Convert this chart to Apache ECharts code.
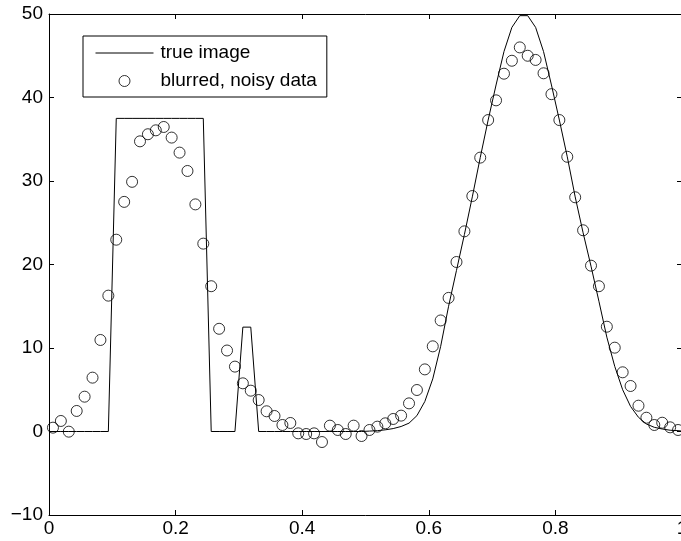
<!DOCTYPE html>
<html>
<head>
<meta charset="utf-8">
<script src="https://cdn.jsdelivr.net/npm/echarts@6/dist/echarts.min.js"></script>
<style>
html,body{margin:0;padding:0;background:#fff;}
#chart{width:681px;height:541px;}
</style>
</head>
<body>
<div id="chart"></div>
<script>
// sample positions of the blurred, noisy data
var dataX = [0.00625,0.01875,0.03125,0.04375,0.05625,0.06875,0.08125,0.09375,0.10625,0.11875,
  0.13125,0.14375,0.15625,0.16875,0.18125,0.19375,0.20625,0.21875,0.23125,0.24375,
  0.25625,0.26875,0.28125,0.29375,0.30625,0.31875,0.33125,0.34375,0.35625,0.36875,
  0.38125,0.39375,0.40625,0.41875,0.43125,0.44375,0.45625,0.46875,0.48125,0.49375,
  0.50625,0.51875,0.53125,0.54375,0.55625,0.56875,0.58125,0.59375,0.60625,0.61875,
  0.63125,0.64375,0.65625,0.66875,0.68125,0.69375,0.70625,0.71875,0.73125,0.74375,
  0.75625,0.76875,0.78125,0.79375,0.80625,0.81875,0.83125,0.84375,0.85625,0.86875,
  0.88125,0.89375,0.90625,0.91875,0.93125,0.94375,0.95625,0.96875,0.98125,0.99375];
var dataY = [0.46,1.26,-0.02,2.46,4.17,6.45,10.96,16.27,
  22.97,27.5,29.9,34.75,35.6,36.07,36.47,35.2,33.4,31.2,27.2,22.5,
  17.4,12.3,9.7,7.77,5.77,4.89,3.77,2.42,1.86,0.78,
  1.02,-0.22,-0.3,-0.22,-1.26,0.7,0.18,-0.3,0.7,-0.54,
  0.18,0.58,0.98,1.5,1.9,3.37,4.97,7.44,10.2,13.3,
  16.0,20.3,23.97,28.2,32.8,37.3,39.66,42.85,44.4,46.0,
  45.0,44.5,42.9,40.4,37.3,32.9,28.05,24.1,19.86,17.4,
  12.55,10.04,7.09,5.45,3.09,1.65,0.78,1.05,0.5,0.18];
// true image
var trueX = [0,0.00625,0.01875,0.03125,0.04375,0.05625,0.06875,0.08125,0.09375,0.10625,0.11875,
  0.13125,0.14375,0.15625,0.16875,0.18125,0.19375,0.20625,0.21875,0.23125,0.24375,
  0.25625,0.26875,0.28125,0.29375,0.30625,0.31875,0.33125,0.34375,0.35625,0.36875,
  0.38125,0.39375,0.40625,0.41875,0.43125,0.44375,0.45625,0.46875,0.48125,0.49375,
  0.50625,0.51875,0.53125,0.54375,0.55625,0.56875,0.58125,0.59375,0.60625,0.61875,
  0.63125,0.64375,0.65625,0.66875,0.68125,0.69375,0.70625,0.71875,0.73125,0.74375,
  0.75625,0.76875,0.78125,0.79375,0.80625,0.81875,0.83125,0.84375,0.85625,0.86875,
  0.88125,0.89375,0.90625,0.91875,0.93125,0.94375,0.95625,0.96875,0.98125,0.99375,1];
var trueY = [0,0,0,0,0,0,0,0,0,
  37.5,37.5,37.5,37.5,37.5,37.5,37.5,37.5,37.5,37.5,37.5,37.5,
  0,0,0,0,
  12.5,12.5,
  0,0,0,0,0,0,0,0,0,0,0,0,0,0,
  0.05,0.1,0.2,0.35,0.6,1.0,1.9,3.6,6.3,10.2,
  15.0,19.3,23.6,28.1,32.8,37.3,41.5,45.5,48.4,49.8,
  49.8,48.4,45.5,41.5,37.3,32.9,28.1,23.8,19.8,15.6,
  11.3,7.8,5.0,3.0,1.7,0.9,0.5,0.3,0.15,0.1,0.05];
var seriesNames = ['true image', 'blurred, noisy data'];
var xTicks = {min: 0, max: 1, interval: 0.2};
var yTicks = {min: -10, max: 50, interval: 10};

var FONT = 'Liberation Sans, Arial, Helvetica, sans-serif';
function pair(xs, ys) { var out = []; for (var i = 0; i < xs.length; i++) out.push([xs[i], ys[i]]); return out; }
function fmt(v) { return String(v).replace('-', '\u2212'); }

var axisBase = {
  type: 'value',
  axisLine: {show: true, onZero: false, lineStyle: {color: '#000', width: 1}},
  axisTick: {show: true, inside: true, length: 5, lineStyle: {color: '#000', width: 1}},
  splitLine: {show: false}
};
function mk(extra) { return Object.assign({}, JSON.parse(JSON.stringify(axisBase)), extra); }

var chart = echarts.init(document.getElementById('chart'), null, {renderer: 'canvas'});
chart.setOption({
  animation: false,
  backgroundColor: '#fff',
  grid: {left: 49, top: 14, width: 633, height: 501, containLabel: false, outerBoundsMode: 'none'},
  xAxis: [
    mk({position: 'bottom', min: xTicks.min, max: xTicks.max, interval: xTicks.interval,
      axisLabel: {color: '#000', fontSize: 19, fontFamily: FONT, margin: 4, formatter: fmt}}),
    mk({position: 'top', min: xTicks.min, max: xTicks.max, interval: xTicks.interval,
      axisLabel: {show: false}})
  ],
  yAxis: [
    mk({position: 'left', min: yTicks.min, max: yTicks.max, interval: yTicks.interval,
      axisLabel: {color: '#000', fontSize: 19, fontFamily: FONT, margin: 6, formatter: fmt}}),
    mk({position: 'right', min: yTicks.min, max: yTicks.max, interval: yTicks.interval,
      axisLabel: {show: false}})
  ],
  legend: {
    orient: 'vertical', left: 83, top: 36,
    padding: [7, 10, 6, 12], itemGap: 8, itemWidth: 58, itemHeight: 11,
    borderColor: '#000', borderWidth: 1, backgroundColor: '#fff',
    textStyle: {color: '#000', fontSize: 19, fontFamily: FONT, lineHeight: 20, padding: [0, 0, 0, 2]},
    data: [
      {name: seriesNames[0], itemStyle: {opacity: 0}, lineStyle: {width: 1, color: '#000'}},
      {name: seriesNames[1], itemStyle: {color: 'rgba(0,0,0,0)', borderColor: '#000', borderWidth: 1}}
    ]
  },
  series: [
    {
      name: seriesNames[0], type: 'line', data: pair(trueX, trueY),
      symbol: 'none', showSymbol: false,
      lineStyle: {color: '#000', width: 1}, itemStyle: {color: '#000'}, z: 2
    },
    {
      name: seriesNames[1], type: 'scatter', data: pair(dataX, dataY),
      symbol: 'circle', symbolSize: 11,
      itemStyle: {color: 'rgba(0,0,0,0)', borderColor: '#000', borderWidth: 1}, z: 3
    }
  ]
});
</script>
</body>
</html>
